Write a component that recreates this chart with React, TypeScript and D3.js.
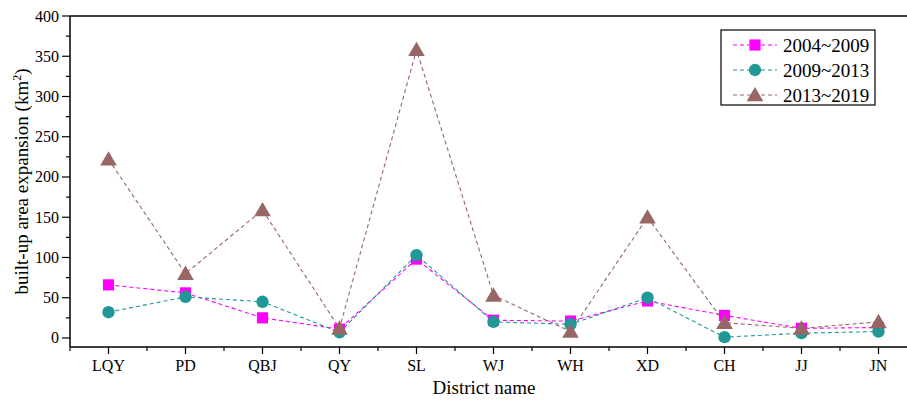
import React, { useEffect, useRef } from 'react';
import * as d3 from 'd3';

const districts = ['LQY', 'PD', 'QBJ', 'QY', 'SL', 'WJ', 'WH', 'XD', 'CH', 'JJ', 'JN'];
const period1 = [66, 56, 25, 11, 98, 22, 21, 46, 28, 12, 13];
const period2 = [32, 51, 45, 7, 103, 20, 17, 50, 1, 6, 8];
const period3 = [222, 80, 159, 12, 358, 53, 8, 150, 19, 12, 20];
const seriesNames = ['2004~2009', '2009~2013', '2013~2019'];
const yTicks = [0, 50, 100, 150, 200, 250, 300, 350, 400];

const colors = ['#ff00ff', '#1f9896', '#996666'];
const shapes = [d3.symbolSquare, d3.symbolCircle, d3.symbolTriangle];
const sizes = [125, 120, 120];

const App = () => {
  const ref = useRef<SVGSVGElement>(null);

  useEffect(() => {
    const W = 907;
    const left = 70;
    const top = 16;
    const bottom = 347;
    const font = '"Liberation Serif", "Times New Roman", serif';

    const svg = d3.select(ref.current);
    svg.selectAll('*').remove();

    const x = d3.scaleLinear().domain([-0.5, 10.5]).range([left, left + 11 * 77]);
    const y = d3.scaleLinear().domain([-11.2, 400]).range([bottom, top]);

    // frame: left axis, bottom axis, top border
    svg.append('line').attr('x1', left).attr('x2', W).attr('y1', top).attr('y2', top)
      .attr('stroke', '#000').attr('stroke-width', 1.5);
    svg.append('line').attr('x1', left).attr('x2', W).attr('y1', bottom).attr('y2', bottom)
      .attr('stroke', '#000').attr('stroke-width', 1.5);
    svg.append('line').attr('x1', left).attr('x2', left).attr('y1', top).attr('y2', bottom)
      .attr('stroke', '#000').attr('stroke-width', 1.5);

    // y ticks
    const yMinor = d3.range(25, 400, 50);
    svg.selectAll('.ymaj').data(yTicks).enter().append('line')
      .attr('x1', left - 8).attr('x2', left)
      .attr('y1', (d) => y(d)).attr('y2', (d) => y(d))
      .attr('stroke', '#000').attr('stroke-width', 1.2);
    svg.selectAll('.ymin').data(yMinor).enter().append('line')
      .attr('x1', left - 4).attr('x2', left)
      .attr('y1', (d) => y(d)).attr('y2', (d) => y(d))
      .attr('stroke', '#000').attr('stroke-width', 1.2);
    svg.selectAll('.ylab').data(yTicks).enter().append('text')
      .attr('x', left - 11).attr('y', (d) => y(d) + 5.5)
      .attr('text-anchor', 'end')
      .style('font-family', font).style('font-size', '16px')
      .text((d) => d);

    // x ticks
    svg.selectAll('.xmaj').data(districts).enter().append('line')
      .attr('x1', (d, i) => x(i)).attr('x2', (d, i) => x(i))
      .attr('y1', bottom).attr('y2', bottom + 7)
      .attr('stroke', '#000').attr('stroke-width', 1.2);
    svg.selectAll('.xmin').data(d3.range(-0.5, 11, 1)).enter().append('line')
      .attr('x1', (d) => x(d)).attr('x2', (d) => x(d))
      .attr('y1', bottom).attr('y2', bottom + 4)
      .attr('stroke', '#000').attr('stroke-width', 1.2);
    svg.selectAll('.xlab').data(districts).enter().append('text')
      .attr('x', (d, i) => x(i)).attr('y', bottom + 24)
      .attr('text-anchor', 'middle')
      .style('font-family', font).style('font-size', '16px')
      .text((d) => d);

    // axis titles
    svg.append('text')
      .attr('x', 484).attr('y', 394)
      .attr('text-anchor', 'middle')
      .style('font-family', font).style('font-size', '19px')
      .text('District name');

    const yt = svg.append('text')
      .attr('transform', `translate(28, ${(top + bottom) / 2}) rotate(-90)`)
      .attr('text-anchor', 'middle')
      .style('font-family', font).style('font-size', '19px');
    yt.append('tspan').text('built-up area expansion (km');
    yt.append('tspan').attr('dy', -7).style('font-size', '12px').text('2');
    yt.append('tspan').attr('dy', 7).text(')');

    // series
    const all = [period1, period2, period3];
    const line = d3.line<number>().x((d, i) => x(i)).y((d) => y(d));

    all.forEach((vals, s) => {
      svg.append('path')
        .attr('d', line(vals))
        .attr('fill', 'none')
        .attr('stroke', colors[s])
        .attr('stroke-width', 1.1)
        .attr('stroke-dasharray', '4,3');
    });
    all.forEach((vals, s) => {
      const sym = d3.symbol().type(shapes[s]).size(sizes[s]);
      svg.selectAll('.pt' + s).data(vals).enter().append('path')
        .attr('d', sym)
        .attr('transform', (d, i) => `translate(${x(i)},${y(d) + (s === 2 ? 1.5 : 0)})`)
        .attr('fill', colors[s]);
    });

    // legend
    const lg = svg.append('g');
    lg.append('rect').attr('x', 721).attr('y', 30).attr('width', 154).attr('height', 75)
      .attr('fill', '#fff').attr('stroke', '#000').attr('stroke-width', 1.2);
    seriesNames.forEach((name, s) => {
      const cy = 45 + s * 25;
      lg.append('line').attr('x1', 733).attr('x2', 777).attr('y1', cy).attr('y2', cy)
        .attr('stroke', colors[s]).attr('stroke-width', 1.1).attr('stroke-dasharray', '4,3');
      lg.append('path')
        .attr('d', d3.symbol().type(shapes[s]).size(sizes[s])())
        .attr('transform', `translate(755,${cy + (s === 2 ? 1.5 : 0)})`)
        .attr('fill', colors[s]);
      lg.append('text').attr('x', 783).attr('y', cy + 6.5)
        .style('font-family', font).style('font-size', '19px')
        .text(name);
    });
  }, []);

  return (
    <div style={{ position: 'absolute', left: 0, top: 0 }}>
      <svg ref={ref} width={907} height={401} style={{ display: 'block', background: '#fff' }} />
    </div>
  );
};

export default App;
